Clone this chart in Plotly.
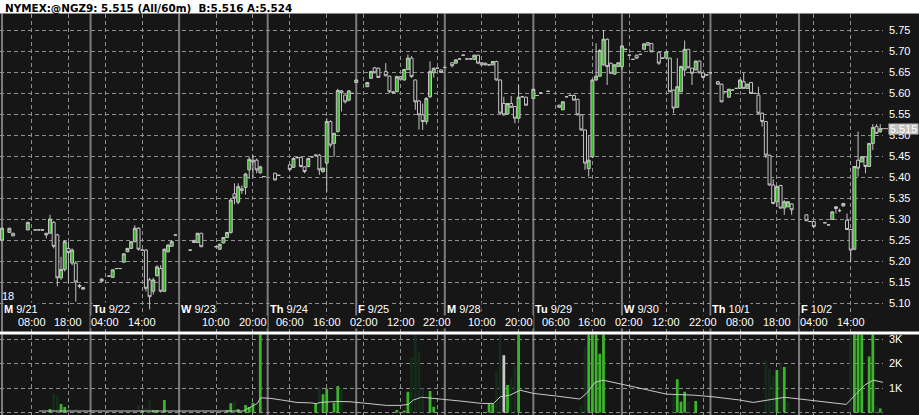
import plotly.graph_objects as go

# ---------------- data ----------------
title_text = "NYMEX:@NGZ9: 5.515 (All/60m)\u00a0\u00a0B:5.516 A:5.524"

day_names = ["M", "Tu", "W", "Th", "F", "M", "Tu", "W", "Th", "F"]
day_dates = ["9/21", "9/22", "9/23", "9/24", "9/25", "9/28", "9/29", "9/30", "10/1", "10/2"]
BARS_PER_DAY = 24

hour_tick_bars = [8, 18, 28, 38, 58, 68, 78, 88, 98, 108, 118, 130, 140, 150, 160,
                  170, 180, 190, 200, 210, 220, 230]
hour_tick_labels = ["08:00", "18:00", "04:00", "14:00", "10:00", "20:00", "06:00", "16:00",
                    "02:00", "12:00", "22:00", "10:00", "20:00", "06:00", "16:00", "02:00",
                    "12:00", "22:00", "08:00", "18:00", "04:00", "14:00"]

price_ticks = [5.10, 5.15, 5.20, 5.25, 5.30, 5.35, 5.40, 5.45, 5.50, 5.55, 5.60, 5.65, 5.70, 5.75]
volume_ticks = [0, 1000, 2000, 3000]
volume_tick_labels = ["0K", "1K", "2K", "3K"]

# hourly bars (index = hours since M 9/21 00:00, 24 per trading day)
bar_idx = [0, 2, 3, 7, 9, 10, 11, 12, 13, 14, 15, 16, 17, 18, 19, 20, 21, 22,
           27, 29, 30, 31, 32, 33, 34, 35, 36, 37, 38, 39, 40, 41, 42, 43, 44, 45, 46, 47,
           51, 52, 53, 54, 58, 59, 60, 61, 62, 63, 64, 65, 66, 67, 68, 69, 70, 71,
           74, 75, 78, 79, 80, 81, 82, 83, 84, 85, 86, 87, 88, 89, 90, 91, 92, 93, 94, 95,
           96, 99, 100, 101, 102, 104, 105, 106, 107, 108, 109, 110, 111, 112, 113, 114, 115,
           116, 117, 118, 119,
           120, 122, 123, 124, 125, 126, 127, 128, 129, 130, 131, 132, 133, 134, 135, 136, 137,
           138, 139, 140, 141, 142,
           144, 145, 146, 148, 151, 152, 153, 154, 155, 156, 157, 158, 159, 160, 161, 162, 163,
           164, 165, 166, 167,
           168, 169, 170, 171, 172, 173, 174, 175, 176, 178, 179, 180, 181, 182, 183, 184, 185,
           186, 187, 188, 189, 190, 191,
           192, 194, 195, 196, 197, 198, 199, 200, 201, 202, 203, 204, 205, 206, 207, 208, 209,
           210, 211, 212, 213, 214,
           218, 219, 220, 223, 224, 225, 226, 227, 228, 229, 230, 231, 232, 233, 234, 235, 236,
           237, 238]

open_ = [5.250, 5.268, 5.266, 5.274, 5.274, 5.274, 5.274, 5.266, 5.266, 5.292, 5.262, 5.160, 5.180, 5.230, 5.195, 5.195, 5.142, 5.137,
         5.152, 5.164, 5.161, 5.182, 5.182, 5.197, 5.222, 5.230, 5.246, 5.278, 5.226, 5.226, 5.155, 5.128, 5.165, 5.182, 5.128, 5.222, 5.235, 5.262,
         5.226, 5.249, 5.244, 5.266, 5.234, 5.228, 5.243, 5.256, 5.268, 5.360, 5.340, 5.372, 5.375, 5.417, 5.440, 5.440, 5.410, 5.401,
         5.409, 5.404, 5.429, 5.423, 5.446, 5.447, 5.424, 5.425, 5.448, 5.452, 5.452, 5.413, 5.433, 5.532, 5.480, 5.508, 5.605, 5.595, 5.583, 5.599,
         5.625, 5.615, 5.635, 5.660, 5.659, 5.651, 5.640, 5.603, 5.603, 5.639, 5.631, 5.656, 5.683, 5.631, 5.581, 5.548, 5.532,
         5.591, 5.648, 5.659, 5.655,
         5.661, 5.672, 5.671, 5.681, 5.690, 5.681, 5.681, 5.680, 5.690, 5.672, 5.671, 5.667, 5.667, 5.675, 5.631, 5.575, 5.550,
         5.575, 5.568, 5.540, 5.591, 5.590,
         5.587, 5.594, 5.600, 5.604, 5.571, 5.560, 5.591, 5.594, 5.594, 5.585, 5.548, 5.512, 5.420, 5.448, 5.631, 5.640, 5.667,
         5.728, 5.671, 5.645, 5.663,
         5.663, 5.704, 5.690, 5.680, 5.690, 5.692, 5.704, 5.720, 5.718, 5.697, 5.683, 5.683, 5.683, 5.607, 5.566, 5.603, 5.655,
         5.704, 5.659, 5.655, 5.676, 5.648, 5.643,
         5.648, 5.627, 5.621, 5.603, 5.590, 5.607, 5.611, 5.611, 5.627, 5.611, 5.625, 5.599, 5.595, 5.552, 5.532, 5.452, 5.381,
         5.341, 5.380, 5.326, 5.329, 5.336,
         5.310, 5.294, 5.294, 5.291, 5.286, 5.299, 5.325, 5.320, 5.331, 5.297, 5.275, 5.228, 5.440, 5.436, 5.448, 5.425, 5.480,
         5.520, 5.508]

high_ = [5.280, 5.279, 5.267, 5.293, 5.274, 5.274, 5.274, 5.267, 5.310, 5.295, 5.265, 5.210, 5.250, 5.245, 5.230, 5.200, 5.145, 5.138,
         5.158, 5.164, 5.180, 5.182, 5.182, 5.218, 5.231, 5.247, 5.285, 5.280, 5.226, 5.228, 5.160, 5.160, 5.190, 5.190, 5.230, 5.240, 5.250, 5.262,
         5.226, 5.250, 5.267, 5.267, 5.234, 5.241, 5.257, 5.269, 5.350, 5.385, 5.385, 5.380, 5.410, 5.448, 5.452, 5.444, 5.427, 5.401,
         5.410, 5.404, 5.430, 5.447, 5.446, 5.448, 5.425, 5.446, 5.448, 5.452, 5.455, 5.422, 5.540, 5.535, 5.505, 5.610, 5.607, 5.596, 5.607, 5.599,
         5.632, 5.626, 5.653, 5.662, 5.660, 5.671, 5.641, 5.605, 5.641, 5.640, 5.657, 5.692, 5.688, 5.632, 5.583, 5.575, 5.590,
         5.675, 5.660, 5.659, 5.656,
         5.661, 5.673, 5.680, 5.681, 5.690, 5.681, 5.681, 5.691, 5.691, 5.673, 5.672, 5.667, 5.676, 5.677, 5.632, 5.591, 5.576,
         5.593, 5.569, 5.619, 5.591, 5.591,
         5.610, 5.594, 5.600, 5.604, 5.572, 5.580, 5.591, 5.597, 5.597, 5.586, 5.549, 5.513, 5.500, 5.632, 5.718, 5.705, 5.750,
         5.730, 5.672, 5.668, 5.673,
         5.714, 5.704, 5.690, 5.680, 5.691, 5.692, 5.718, 5.721, 5.719, 5.698, 5.683, 5.699, 5.684, 5.608, 5.683, 5.665, 5.725,
         5.705, 5.660, 5.677, 5.677, 5.649, 5.643,
         5.648, 5.628, 5.622, 5.603, 5.610, 5.607, 5.611, 5.632, 5.648, 5.622, 5.626, 5.599, 5.615, 5.553, 5.533, 5.453, 5.395,
         5.380, 5.381, 5.345, 5.342, 5.337,
         5.311, 5.294, 5.295, 5.291, 5.286, 5.318, 5.330, 5.325, 5.338, 5.313, 5.276, 5.425, 5.508, 5.449, 5.449, 5.481, 5.526,
         5.526, 5.526]

low_ = [5.248, 5.267, 5.259, 5.273, 5.274, 5.274, 5.274, 5.254, 5.265, 5.230, 5.140, 5.155, 5.175, 5.147, 5.190, 5.103, 5.135, 5.132,
        5.151, 5.164, 5.160, 5.182, 5.182, 5.196, 5.221, 5.229, 5.245, 5.225, 5.226, 5.128, 5.085, 5.120, 5.163, 5.125, 5.126, 5.220, 5.234, 5.262,
        5.226, 5.243, 5.243, 5.233, 5.234, 5.227, 5.242, 5.255, 5.265, 5.335, 5.335, 5.360, 5.358, 5.395, 5.400, 5.409, 5.408, 5.401,
        5.392, 5.404, 5.415, 5.422, 5.446, 5.423, 5.409, 5.423, 5.448, 5.452, 5.405, 5.410, 5.365, 5.470, 5.448, 5.506, 5.556, 5.575, 5.580, 5.599,
        5.624, 5.614, 5.634, 5.647, 5.636, 5.640, 5.600, 5.598, 5.602, 5.632, 5.630, 5.655, 5.636, 5.560, 5.513, 5.512, 5.525,
        5.588, 5.637, 5.659, 5.648,
        5.661, 5.661, 5.670, 5.681, 5.690, 5.681, 5.681, 5.679, 5.670, 5.666, 5.666, 5.667, 5.666, 5.630, 5.550, 5.546, 5.549,
        5.565, 5.528, 5.539, 5.591, 5.570,
        5.586, 5.594, 5.600, 5.604, 5.565, 5.559, 5.591, 5.593, 5.582, 5.547, 5.510, 5.417, 5.401, 5.445, 5.629, 5.638, 5.665,
        5.619, 5.645, 5.644, 5.662,
        5.655, 5.704, 5.690, 5.680, 5.682, 5.692, 5.703, 5.713, 5.697, 5.667, 5.683, 5.682, 5.602, 5.552, 5.565, 5.602, 5.640,
        5.659, 5.619, 5.654, 5.647, 5.636, 5.643,
        5.648, 5.620, 5.578, 5.603, 5.589, 5.607, 5.611, 5.610, 5.610, 5.610, 5.598, 5.599, 5.550, 5.520, 5.445, 5.380, 5.335,
        5.329, 5.325, 5.310, 5.328, 5.310,
        5.295, 5.294, 5.278, 5.291, 5.286, 5.298, 5.313, 5.316, 5.330, 5.274, 5.198, 5.226, 5.401, 5.435, 5.409, 5.424, 5.464,
        5.503, 5.505]

close_ = [5.278, 5.278, 5.260, 5.292, 5.274, 5.274, 5.274, 5.262, 5.300, 5.235, 5.160, 5.180, 5.246, 5.220, 5.226, 5.150, 5.140, 5.133,
          5.157, 5.164, 5.179, 5.182, 5.182, 5.217, 5.230, 5.246, 5.278, 5.228, 5.226, 5.135, 5.115, 5.155, 5.186, 5.128, 5.228, 5.238, 5.246, 5.262,
          5.226, 5.244, 5.266, 5.234, 5.234, 5.240, 5.256, 5.268, 5.345, 5.350, 5.377, 5.368, 5.407, 5.442, 5.436, 5.417, 5.424, 5.401,
          5.393, 5.404, 5.418, 5.444, 5.446, 5.425, 5.413, 5.444, 5.448, 5.452, 5.417, 5.421, 5.532, 5.476, 5.504, 5.606, 5.601, 5.579, 5.605, 5.599,
          5.631, 5.625, 5.651, 5.648, 5.637, 5.641, 5.603, 5.601, 5.639, 5.633, 5.656, 5.683, 5.639, 5.579, 5.548, 5.532, 5.587,
          5.651, 5.659, 5.659, 5.649,
          5.661, 5.665, 5.679, 5.681, 5.690, 5.681, 5.681, 5.690, 5.671, 5.667, 5.667, 5.667, 5.675, 5.631, 5.552, 5.548, 5.575,
          5.566, 5.540, 5.590, 5.591, 5.571,
          5.609, 5.594, 5.600, 5.604, 5.566, 5.579, 5.591, 5.594, 5.583, 5.548, 5.512, 5.433, 5.440, 5.631, 5.640, 5.701, 5.728,
          5.663, 5.647, 5.667, 5.672,
          5.712, 5.704, 5.690, 5.680, 5.683, 5.692, 5.717, 5.714, 5.698, 5.671, 5.683, 5.698, 5.603, 5.564, 5.615, 5.663, 5.704,
          5.660, 5.647, 5.676, 5.648, 5.637, 5.643,
          5.648, 5.621, 5.579, 5.603, 5.609, 5.607, 5.611, 5.631, 5.611, 5.621, 5.599, 5.599, 5.552, 5.532, 5.452, 5.381, 5.337,
          5.377, 5.326, 5.341, 5.341, 5.322,
          5.296, 5.294, 5.282, 5.291, 5.286, 5.317, 5.329, 5.320, 5.337, 5.275, 5.226, 5.425, 5.421, 5.448, 5.425, 5.480, 5.518,
          5.504, 5.515]

last_price = 5.515

# volume (contracts) per bar, with bar colour class
vol_bar = [13, 14, 15, 16, 17, 18, 20, 37, 38, 39, 40, 41, 42, 44, 61, 62, 63, 64, 66, 67, 68, 70,
           85, 86, 87, 88, 90, 91, 92, 107, 109, 110, 111, 112, 113, 114, 116, 117,
           132, 133, 134, 135, 136, 137, 138, 139, 140, 157, 158, 159, 160, 161, 162, 163,
           182, 183, 184, 185, 186, 188, 207, 208, 209, 210, 211, 212, 213,
           230, 231, 232, 233, 235, 236, 237, 238]
vol_val = [142, 780, 684, 345, 224, 170, 142, 305, 100, 196, 508, 100, 100, 508, 100, 373, 467, 142, 305, 224, 400, 3500,
           373, 1050, 750, 980, 400, 1080, 915, 100, 60, 850, 2270, 3300, 2500, 980, 875, 237,
           370, 370, 1660, 3300, 2340, 1120, 1390, 1900, 3400, 300, 2680, 3300, 3300, 3300, 2400, 3300,
           710, 1360, 440, 850, 440, 470, 2100, 1800, 1500, 1730, 2000, 1860, 440,
           3300, 3300, 3300, 3300, 2290, 3300, 300, 160]
vol_kind = ["up", "down", "down", "up", "up", "down", "down", "down", "up", "down", "down", "up", "up", "up",
            "up", "up", "down", "up", "up", "up", "up", "up",
            "up", "down", "up", "up", "up", "up", "down", "up", "up", "up", "down", "down", "down", "down", "up", "up",
            "up", "up", "down", "down", "flat", "up", "down", "down", "up", "down", "down", "up", "up", "up", "up", "up",
            "down", "up", "up", "up", "down", "up", "down", "down", "down", "up", "down", "up", "down",
            "down", "up", "up", "up", "up", "up", "down", "up"]

# volume moving-average line
ma_bar = [10, 14.6, 30.6, 36.5, 44.2, 65.4, 65.9, 69.2, 70.1, 72.6, 75.8, 78, 79.9, 83.9, 85.3, 86.2,
          90.7, 94.3, 97, 99.7, 104.2, 107.9, 110.1, 111.5, 113.7, 116, 119.6, 124.1, 130, 133.2,
          135, 137.7, 140.4, 144, 150.3, 156.6, 158.4, 160.7, 162.9, 166.6, 171.1, 180.1, 187.3,
          192.7, 199.9, 203.6, 209, 212.1, 216.2, 223.4, 228.8, 231.6, 233.8, 236.1, 238.8]
ma_val = [60, 60, 60, 60, 60, 60, 100, 370, 600, 580, 510, 470, 410, 390, 360, 410,
          450, 440, 400, 350, 290, 290, 330, 510, 620, 590, 550, 470, 370, 370,
          640, 710, 910, 780, 670, 550, 780, 1230, 1320, 1190, 1050, 750, 710,
          640, 510, 410, 550, 620, 550, 440, 330, 780, 1120, 1320, 1230]

# ---------------- styling ----------------
W, H = 919, 415
BG = "#161616"
GRID = "#8f8f8f"
SEP = "#7c7c7c"
CANDLE_LINE = "#c4c4c4"
GREEN = "#3cb52c"
DARK_GREEN = "#162b1c"
FONT = "Liberation Sans, Arial, sans-serif"

def py(px):  # pixel row -> paper fraction
    return (H - px) / H

PX_PER_BAR = 3.69
X0_PX = 2.0
PLOT_RIGHT = 883
x_range = [-X0_PX / PX_PER_BAR, (PLOT_RIGHT - X0_PX) / PX_PER_BAR]

price_top_px, price_bot_px = 13.5, 331.5
vol_top_px = 334.5
PX_PER_PRICE = 420.0
price_range = [5.75 - (price_bot_px - 30) / PX_PER_PRICE, 5.75 + (30 - price_top_px) / PX_PER_PRICE]
PX_PER_VOL = 24.5 / 1000
vol_range = [-(H - 412.5) / PX_PER_VOL, (412.5 - vol_top_px) / PX_PER_VOL]

fig = go.Figure()

fig.add_trace(go.Candlestick(
    x=bar_idx, open=open_, high=high_, low=low_, close=close_,
    increasing=dict(line=dict(color=CANDLE_LINE, width=1), fillcolor=GREEN),
    decreasing=dict(line=dict(color=CANDLE_LINE, width=1), fillcolor=BG),
    whiskerwidth=0, xaxis="x", yaxis="y", hoverinfo="skip", showlegend=False,
))

kind_color = {"up": GREEN, "down": DARK_GREEN, "flat": "#c8c8c8"}
fig.add_trace(go.Bar(
    x=vol_bar, y=vol_val, width=0.75,
    marker=dict(color=[kind_color[k] for k in vol_kind], line=dict(width=0)),
    xaxis="x2", yaxis="y2", hoverinfo="skip", showlegend=False,
))
fig.add_trace(go.Scatter(
    x=ma_bar, y=ma_val, mode="lines", line=dict(color="#c8c8c8", width=1),
    xaxis="x2", yaxis="y2", hoverinfo="skip", showlegend=False,
))

xaxis_common = dict(
    range=x_range, domain=[0, PLOT_RIGHT / W], showticklabels=False, ticks="",
    tickmode="array", tickvals=hour_tick_bars, showgrid=True, gridcolor=GRID,
    griddash="4px,3px", gridwidth=1, zeroline=False, showline=False, fixedrange=True,
)
yaxis_common = dict(
    side="right", tickmode="array", ticks="", ticklen=0, ticklabelstandoff=5,
    tickfont=dict(family=FONT, size=11, color="#ffffff"),
    showgrid=True, gridcolor=GRID, griddash="4px,3px", gridwidth=1,
    zeroline=False, showline=False, fixedrange=True,
)
fig.update_layout(
    width=W, height=H, margin=dict(l=0, r=0, t=0, b=0, pad=0, autoexpand=False),
    paper_bgcolor=BG, plot_bgcolor=BG, showlegend=False, hovermode=False,
    boxgap=0.2, boxgroupgap=0,
    xaxis=dict(anchor="y", rangeslider=dict(visible=False), **xaxis_common),
    xaxis2=dict(anchor="y2", matches="x", **xaxis_common),
    yaxis=dict(domain=[py(price_bot_px), py(price_top_px)], range=price_range, anchor="x",
               tickvals=price_ticks, ticktext=[f"{v:.2f}" for v in price_ticks], **yaxis_common),
    yaxis2=dict(domain=[0, py(vol_top_px)], range=vol_range, anchor="x2",
                tickvals=volume_ticks, ticktext=volume_tick_labels, **yaxis_common),
)

shapes = []
# day separators in both panels
for d in range(len(day_names)):
    for xr, yr in (("x", "y domain"), ("x2", "y2 domain")):
        shapes.append(dict(type="line", xref=xr, yref=yr, x0=d * BARS_PER_DAY, x1=d * BARS_PER_DAY,
                           y0=0, y1=1, line=dict(color=SEP, width=2), layer="below"))
# title band and panel divider
shapes.append(dict(type="rect", xref="paper", yref="paper", x0=0, x1=1, y0=py(price_top_px), y1=1,
                   fillcolor="#ffffff", line=dict(width=0), layer="above"))
shapes.append(dict(type="rect", xref="paper", yref="paper", x0=0, x1=1, y0=py(vol_top_px),
                   y1=py(price_bot_px), fillcolor="#ffffff", line=dict(width=0), layer="above"))
# last-price leader line
shapes.append(dict(type="line", xref="paper", yref="y", x0=881 / W, x1=888 / W,
                   y0=last_price, y1=last_price, line=dict(color="#c0c0c0", width=1), layer="above"))
fig.update_layout(shapes=shapes)

ann = []
ann.append(dict(text="<b>" + title_text + "</b>", xref="paper", yref="paper", x=3 / W, y=py(7.5),
                xanchor="left", yanchor="middle", showarrow=False,
                font=dict(family="DejaVu Sans, sans-serif", size=10.4, color="#000000")))
for d, (nm, dt) in enumerate(zip(day_names, day_dates)):
    ann.append(dict(text=f"<b>{nm}</b> {dt}", xref="x", yref="paper", x=d * BARS_PER_DAY, xshift=1,
                    y=py(309), xanchor="left", yanchor="middle", showarrow=False, bgcolor=BG,
                    borderpad=0, font=dict(family=FONT, size=11, color="#ffffff")))
for b, lab in zip(hour_tick_bars, hour_tick_labels):
    ann.append(dict(text=lab, xref="x", yref="paper", x=b, y=py(322), xanchor="center",
                    yanchor="middle", showarrow=False, bgcolor=BG, borderpad=0,
                    font=dict(family=FONT, size=11, color="#ffffff")))
ann.append(dict(text="18", xref="paper", yref="paper", x=0, y=py(296), xanchor="left",
                yanchor="middle", showarrow=False, font=dict(family=FONT, size=11, color="#ffffff")))
ann.append(dict(text=f"{last_price:.3f}", xref="paper", yref="y", x=888 / W, y=last_price,
                xanchor="left", yanchor="middle", showarrow=False, bgcolor="#c0c0c0",
                width=29, height=10, borderpad=0,
                font=dict(family=FONT, size=11, color="#ffffff")))
fig.update_layout(annotations=ann)

fig.write_html("out.html", config={"displayModeBar": False},
               post_script="document.body.style.margin='0';document.body.style.overflow='hidden';")
